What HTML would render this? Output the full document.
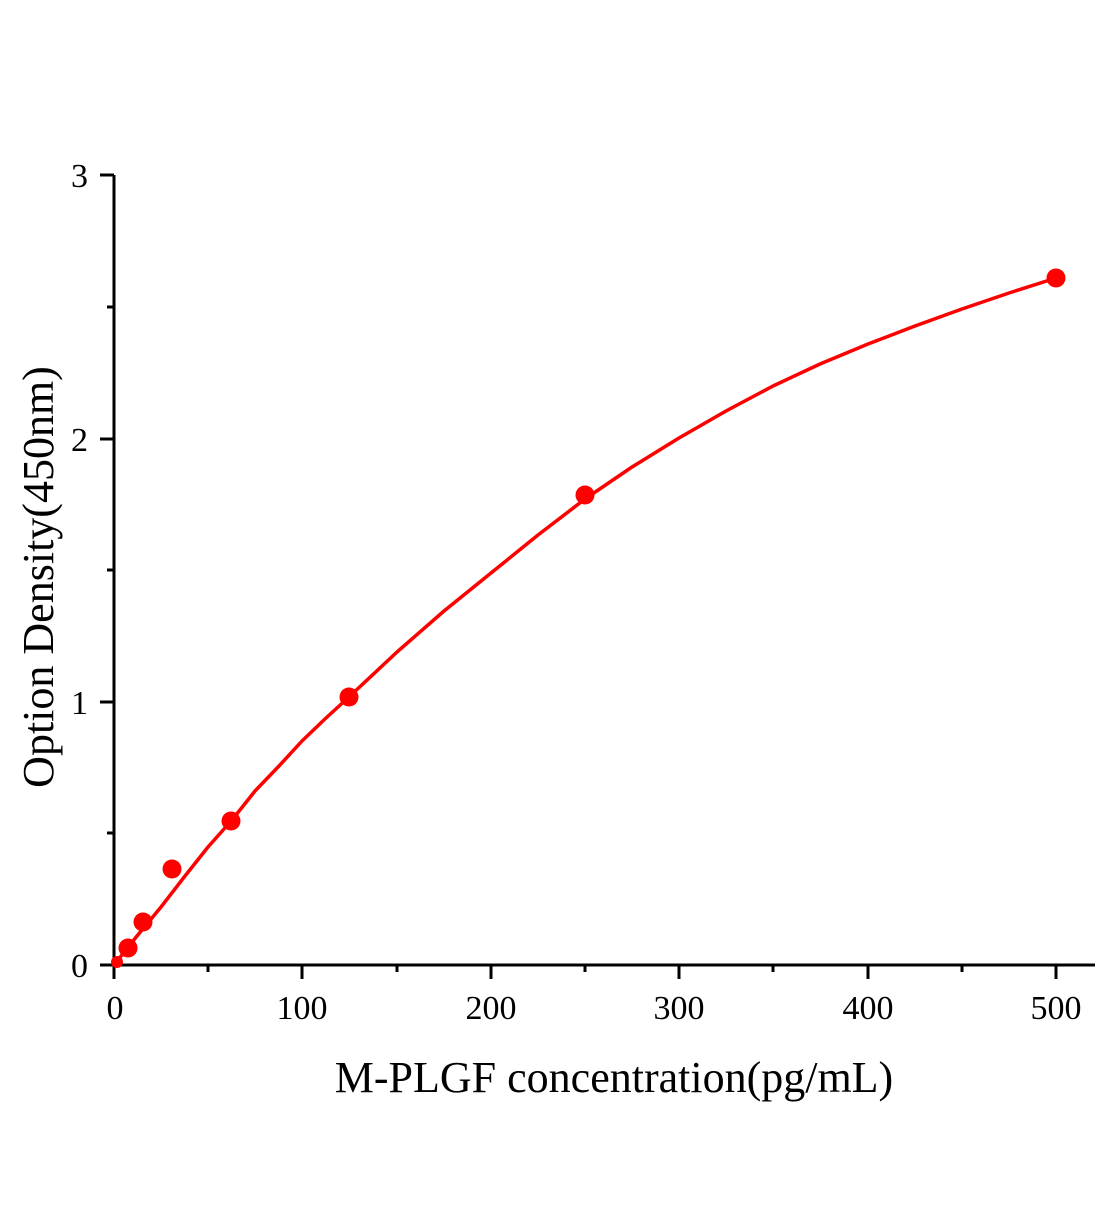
<!DOCTYPE html>
<html><head><meta charset="utf-8"><style>html,body{margin:0;padding:0;background:#fff}</style></head>
<body>
<svg width="1104" height="1200" viewBox="0 0 1104 1200" xmlns="http://www.w3.org/2000/svg" font-family="Liberation Serif, serif">
<g stroke="#000" stroke-width="3" fill="none">
<line x1="114" y1="175" x2="114" y2="966.5"/>
<line x1="112.5" y1="965" x2="1095" y2="965"/>
<line x1="100" y1="175" x2="114" y2="175"/>
<line x1="100" y1="439" x2="114" y2="439"/>
<line x1="100" y1="702" x2="114" y2="702"/>
<line x1="100" y1="965" x2="114" y2="965"/>
<line x1="107" y1="307" x2="114" y2="307"/>
<line x1="107" y1="570" x2="114" y2="570"/>
<line x1="107" y1="833" x2="114" y2="833"/>
<line x1="114" y1="965" x2="114" y2="979"/>
<line x1="302" y1="965" x2="302" y2="979"/>
<line x1="491" y1="965" x2="491" y2="979"/>
<line x1="679" y1="965" x2="679" y2="979"/>
<line x1="868" y1="965" x2="868" y2="979"/>
<line x1="1056" y1="965" x2="1056" y2="979"/>
<line x1="208" y1="965" x2="208" y2="972"/>
<line x1="397" y1="965" x2="397" y2="972"/>
<line x1="585" y1="965" x2="585" y2="972"/>
<line x1="773" y1="965" x2="773" y2="972"/>
<line x1="962" y1="965" x2="962" y2="972"/>
</g>
<g font-size="34" fill="#000" text-anchor="end">
<text x="88" y="187">3</text>
<text x="88" y="451">2</text>
<text x="88" y="714">1</text>
<text x="88" y="977">0</text>
</g>
<g font-size="34" fill="#000" text-anchor="middle">
<text x="115" y="1019">0</text>
<text x="302" y="1019">100</text>
<text x="491" y="1019">200</text>
<text x="679" y="1019">300</text>
<text x="868" y="1019">400</text>
<text x="1056" y="1019">500</text>
</g>
<text x="614" y="1092" font-size="44" text-anchor="middle">M-PLGF concentration(pg/mL)</text>
<text transform="translate(53,577) rotate(-90)" font-size="44" text-anchor="middle">Option Density(450nm)</text>
<polyline fill="none" stroke="#f00" stroke-width="3.5" stroke-linejoin="round" points="114,965 137,936 161,907 185,876 208,847 232,820 255,791 279,766 302,741 326,718 350,696 397,652 444,611 491,573 538,535 585,499 632,467 679,438 726,411 773,386 820,364 868,344 915,326 962,309 1009,293 1056,278"/>
<g fill="#f00">
<circle cx="117" cy="962" r="6"/>
<circle cx="128" cy="948" r="9.5"/>
<circle cx="143" cy="922" r="9.5"/>
<circle cx="172" cy="869" r="9.5"/>
<circle cx="231" cy="821" r="9.5"/>
<circle cx="349" cy="697" r="9.5"/>
<circle cx="585" cy="495" r="9.5"/>
<circle cx="1056" cy="278" r="9.5"/>
</g>
</svg>
</body></html>
